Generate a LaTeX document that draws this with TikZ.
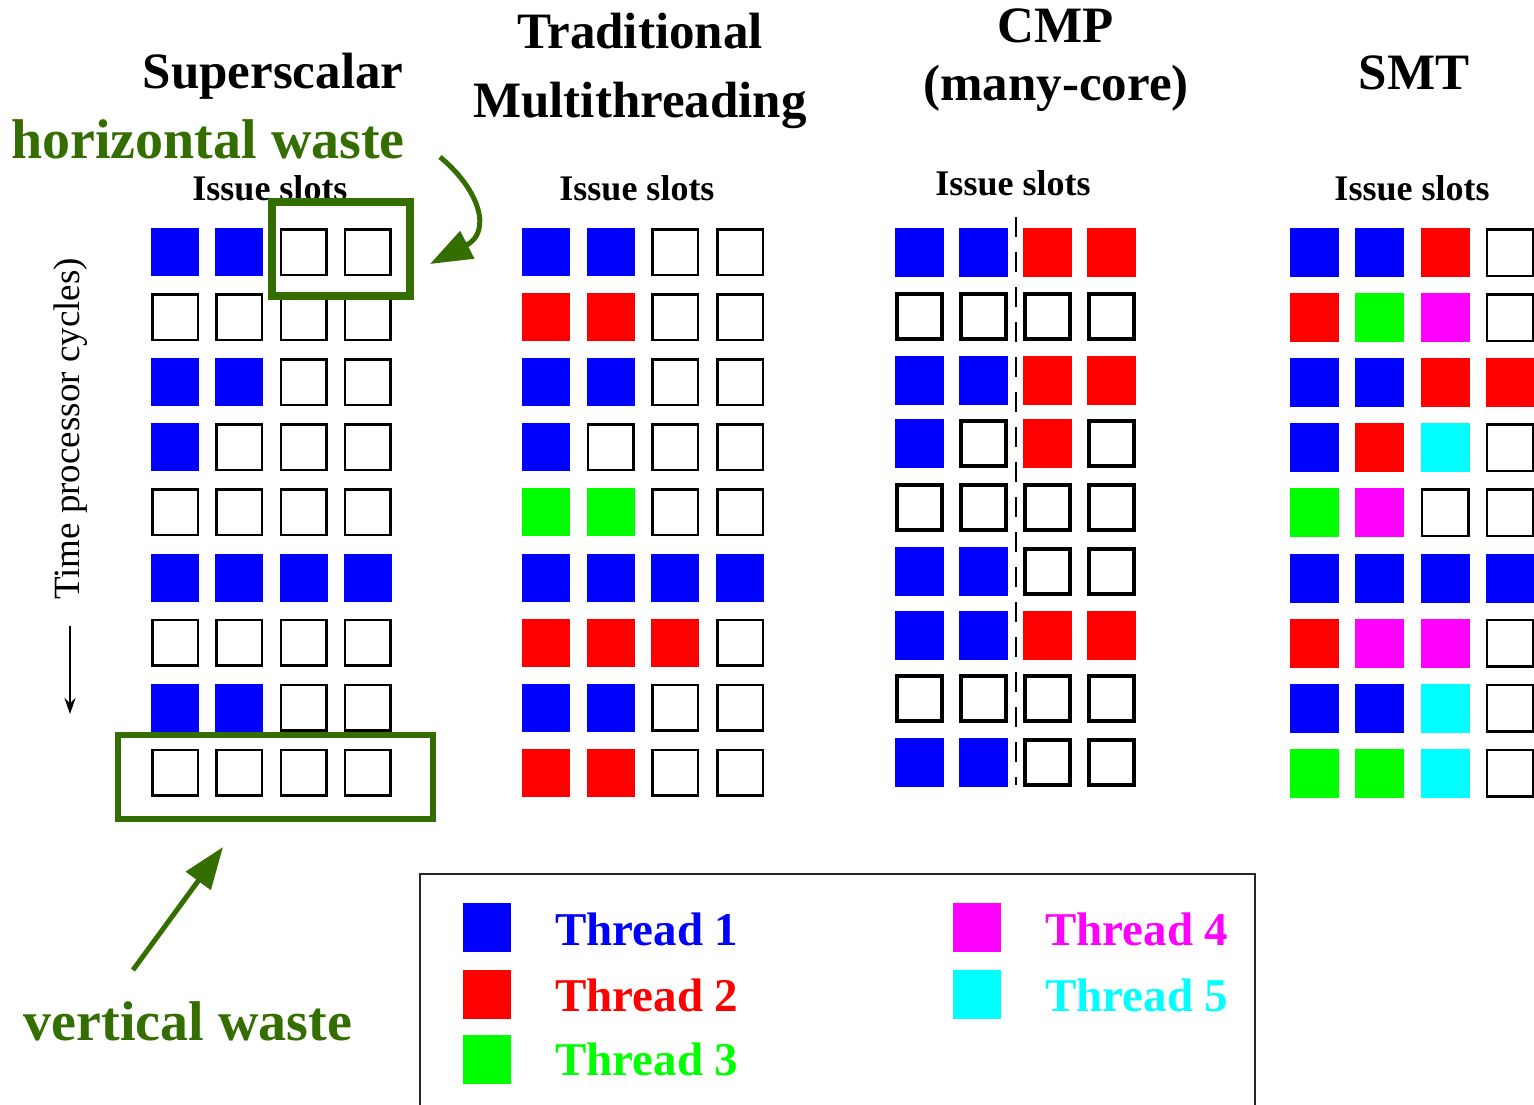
\documentclass[tikz,border=0pt]{standalone}
\usepackage{fontspec}
\setmainfont{Liberation Serif}
\usetikzlibrary{arrows.meta}

% thread colours: t? = fill, d? = outline
\definecolor{tB}{RGB}{0,0,255}   \definecolor{dB}{RGB}{0,0,255}
\definecolor{tR}{RGB}{255,0,0}   \definecolor{dR}{RGB}{255,0,0}
\definecolor{tG}{RGB}{0,255,0}   \definecolor{dG}{RGB}{0,255,0}
\definecolor{tM}{RGB}{255,0,255} \definecolor{dM}{RGB}{255,0,255}
\definecolor{tC}{RGB}{0,255,255} \definecolor{dC}{RGB}{0,255,255}
\definecolor{tE}{RGB}{255,255,255} \definecolor{dE}{RGB}{0,0,0}
\definecolor{waste}{RGB}{52,110,0}

\tikzset{
  title/.style={font=\fontsize{51}{56}\selectfont\bfseries, anchor=base, inner sep=0pt},
  slotlabel/.style={font=\fontsize{36}{40}\selectfont\bfseries, anchor=base, inner sep=0pt},
  wastelabel/.style={font=\fontsize{56}{60}\selectfont\bfseries, text=waste, anchor=base, inner sep=0pt},
  wastebox/.style={draw=waste, inner sep=0pt},
  wastearrow/.style={draw=waste, line width=5pt, -{Triangle[length=42pt,width=30pt]}},
  legendtext/.style={font=\fontsize{47}{50}\selectfont\bfseries, anchor=base west, inner sep=0pt},
  swatch/.style={minimum width=48pt, minimum height=49pt, inner sep=0pt, anchor=north west},
}

% grid of issue slots: x0, dx, y0, dy, size, line width, rows
\newcommand\slotgrid[7]{%
  \foreach \rowlist [count=\r from 0] in {#7} {%
    \foreach \c [count=\k from 0] in \rowlist {%
      \path[fill=t\c, draw=d\c, line width=#6pt]
        ({#1+\k*#2+#6/2},{#3+\r*#4+#6/2}) rectangle
        ({#1+\k*#2+#5-#6/2},{#3+\r*#4+#5-#6/2});
    }%
  }%
}

\begin{document}
\begin{tikzpicture}[x=1pt, y=-1pt]
\useasboundingbox[fill=white] (0,0) rectangle (1534,1104);

% column titles
\node[title] (tss) at (273,88) {Superscalar};
\node[title] (ttm1) at (640,48) {Traditional};
\node[title] (ttm2) at (640,117) {Multithreading};
\node[title] (tcmp1) at (1056,42) {CMP};
\node[title] (tcmp2) at (1056,100) {(many-core)};
\node[title] (tsmt) at (1414,89) {SMT};

% issue slot captions
\node[slotlabel] (iss) at (270,200) {Issue slots};
\node[slotlabel] (itm) at (637,200) {Issue slots};
\node[slotlabel] (icmp) at (1013,195) {Issue slots};
\node[slotlabel] (ismt) at (1412,200) {Issue slots};

% superscalar
\slotgrid{151}{64.3}{228}{65.1}{48}{2.5}{
  {B,B,E,E},{E,E,E,E},{B,B,E,E},{B,E,E,E},{E,E,E,E},
  {B,B,B,B},{E,E,E,E},{B,B,E,E},{E,E,E,E}}

% traditional multithreading
\slotgrid{522}{64.7}{228}{65.1}{48}{2.5}{
  {B,B,E,E},{R,R,E,E},{B,B,E,E},{B,E,E,E},{G,G,E,E},
  {B,B,B,B},{R,R,R,E},{B,B,E,E},{R,R,E,E}}

% CMP
\slotgrid{895}{64}{228}{63.75}{49}{4}{
  {B,B,R,R},{E,E,E,E},{B,B,R,R},{B,E,R,E},{E,E,E,E},
  {B,B,E,E},{B,B,R,R},{E,E,E,E},{B,B,E,E}}
\draw[line width=2pt, dash pattern=on 20pt off 15pt] (1016,217) -- (1016,785);

% SMT
\slotgrid{1290}{65.3}{228}{65.1}{49}{2.5}{
  {B,B,R,E},{R,G,M,E},{B,B,R,R},{B,R,C,E},{G,M,E,E},
  {B,B,B,B},{R,M,M,E},{B,B,C,E},{G,G,C,E}}

% time axis
\node[font=\fontsize{37}{40}\selectfont, rotate=90, inner sep=0pt] (time) at (71,429) {Time processor cycles)};
\coordinate (tstart) at (70,626);
\coordinate (tend) at (70,714);
\draw[line width=2pt, -{Stealth[length=16pt,width=11pt]}] (tstart) -- (tend);

% horizontal waste
\node[wastebox, line width=8pt, minimum width=138pt, minimum height=94pt] (hbox) at (341,249) {};
\node[wastelabel] (hlabel) at (208,158) {horizontal waste};
\coordinate (hfrom) at (440,157);
\coordinate (hto) at (430,264);
\draw[wastearrow] (hfrom) .. controls (480,190) and (492,232) .. (hto);

% vertical waste
\node[wastebox, line width=6pt, minimum width=315pt, minimum height=84pt] (vbox) at (275.5,777) {};
\node[wastelabel] (vlabel) at (188,1040) {vertical waste};
\coordinate (vfrom) at (133,970);
\coordinate (vto) at (223,847);
\draw[wastearrow] (vfrom) -- (vto);

% legend
\draw[line width=2pt, draw=black!85] (420,874) rectangle (1255,1120);
\node[swatch, fill=tB] (s1) at (463,903) {};
\node[swatch, fill=tR] (s2) at (463,970) {};
\node[swatch, fill=tG] (s3) at (463,1035) {};
\node[swatch, fill=tM] (s4) at (953,903) {};
\node[swatch, fill=tC] (s5) at (953,970) {};
\node[legendtext, text=tB] (l1) at (555,945) {Thread 1};
\node[legendtext, text=tR] (l2) at (555,1011) {Thread 2};
\node[legendtext, text=tG] (l3) at (555,1075) {Thread 3};
\node[legendtext, text=tM] (l4) at (1045,945) {Thread 4};
\node[legendtext, text=tC] (l5) at (1045,1011) {Thread 5};
\end{tikzpicture}
\end{document}
